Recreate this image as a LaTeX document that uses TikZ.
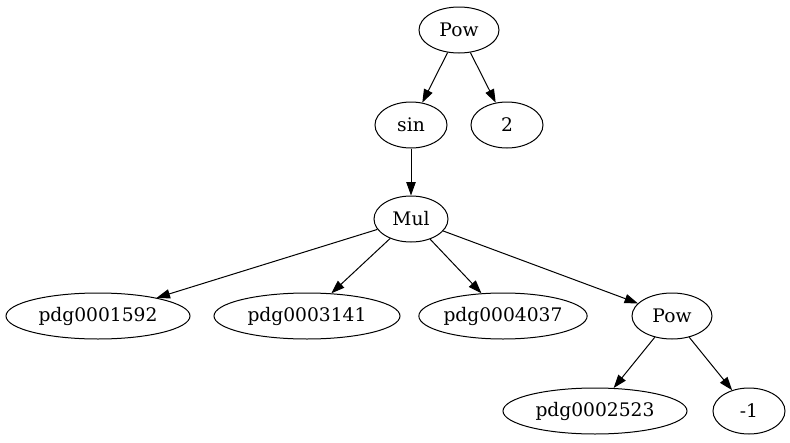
\documentclass[tikz,border=0pt]{standalone}
\usepackage{fontspec}
\setmainfont{DejaVu Serif}
\usetikzlibrary{shapes.geometric,arrows.meta}
\begin{document}
\begin{tikzpicture}[x=0.75pt,y=-0.75pt,
  nd/.style={draw,ellipse,inner sep=0pt,minimum height=34.5pt,line width=0.75pt,font=\fontsize{14pt}{16pt}\selectfont},
  ed/.style={line width=0.75pt,-{Triangle[length=10pt,width=7pt]}}]
\useasboundingbox (0,0) rectangle (790,443);
\node[nd,minimum width=60pt] (pow1) at (459,30) {Pow};
\node[nd,minimum width=54pt] (sin) at (411,125) {sin};
\node[nd,minimum width=54pt] (two) at (507,125) {2};
\node[nd,minimum width=55.5pt] (mul) at (411,219) {Mul};
\node[nd,minimum width=138pt] (p1) at (98,316) {pdg0001592};
\node[nd,minimum width=139.5pt] (p2) at (307,316) {pdg0003141};
\node[nd,minimum width=118.5pt] (p3) at (503,316) {pdg0004037};
\node[nd,minimum width=60pt] (pow2) at (672,316) {Pow};
\node[nd,minimum width=138pt] (p4) at (595,411) {pdg0002523};
\node[nd,minimum width=54pt] (m1) at (749,411) {-1};
\draw[ed] (pow1) -- (sin);
\draw[ed] (pow1) -- (two);
\draw[ed] (sin) -- (mul);
\draw[ed] (mul) -- (p1);
\draw[ed] (mul) -- (p2);
\draw[ed] (mul) -- (p3);
\draw[ed] (mul) -- (pow2);
\draw[ed] (pow2) -- (p4);
\draw[ed] (pow2) -- (m1);
\end{tikzpicture}
\end{document}
